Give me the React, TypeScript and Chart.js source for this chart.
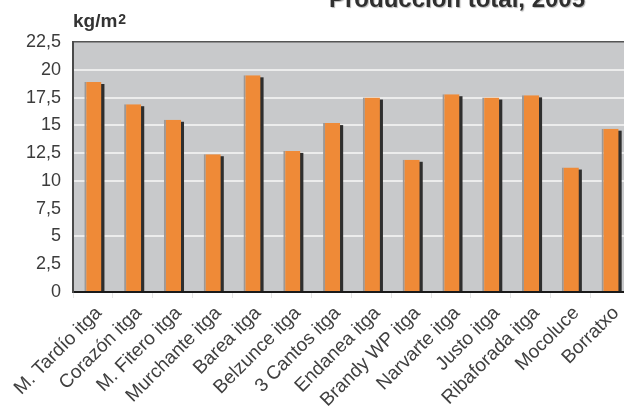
import React, { useEffect, useRef } from "react";
import { Chart, registerables } from "chart.js";

Chart.register(...registerables);

const categories = [
  "M. Tardío itga",
  "Corazón itga",
  "M. Fitero itga",
  "Murchante itga",
  "Barea itga",
  "Belzunce itga",
  "3 Cantos itga",
  "Endanea itga",
  "Brandy WP itga",
  "Narvarte itga",
  "Justo itga",
  "Ribaforada itga",
  "Mocoluce",
  "Borratxo",
];
const production = [18.9, 16.9, 15.5, 12.4, 19.5, 12.7, 15.2, 17.5, 11.9, 17.8, 17.5, 17.7, 11.2, 14.7];
const yMin = 0;
const yMax = 22.5;
const yStep = 2.5;
const hiddenGridValues = [2.5, 7.5];
const titleText = "Producción total, 2005";
const unitText = "kg/m";
const unitSup = "2";

const FONT = "'Liberation Sans', Arial, Helvetica, sans-serif";

const areaBg = {
  id: "areaBg",
  beforeDraw(chart: any) {
    const { ctx, chartArea } = chart;
    ctx.save();
    ctx.fillStyle = "#c8c9cb";
    ctx.fillRect(chartArea.left, chartArea.top, chartArea.right - chartArea.left, chartArea.bottom - chartArea.top);
    ctx.restore();
  },
};

// dark drop shadow on the right of each bar, placed from the bar elements
const barShadow = {
  id: "barShadow",
  beforeDatasetsDraw(chart: any) {
    const ctx = chart.ctx;
    const meta = chart.getDatasetMeta(0);
    ctx.save();
    ctx.fillStyle = "#2e2e2e";
    meta.data.forEach((bar: any) => {
      const p = bar.getProps(["x", "y", "base", "width"], true);
      const right = p.x + p.width / 2;
      ctx.fillRect(right - 1, p.y + 2, 4, p.base - p.y - 2);
    });
    ctx.restore();
  },
};

export default function App() {
  const ref = useRef<HTMLCanvasElement | null>(null);

  useEffect(() => {
    if (!ref.current) return;
    const chart = new Chart(ref.current, {
      type: "bar",
      data: {
        labels: categories,
        datasets: [
          {
            data: production,
            backgroundColor: "#ef8a37",
            borderColor: "#9c9896",
            borderWidth: { left: 2, top: 0, right: 0, bottom: 0 },
            borderSkipped: false as any,
            barPercentage: 0.43,
            categoryPercentage: 1,
          },
        ],
      },
      options: {
        animation: false,
        responsive: true,
        maintainAspectRatio: false,
        layout: { padding: { top: 42, right: 10, bottom: 0, left: 0 } },
        plugins: {
          legend: { display: false },
          title: { display: false },
          tooltip: { enabled: false },
        },
        scales: {
          x: {
            offset: true,
            afterFit: (scale: any) => {
              scale.height = 119;
            },
            grid: {
              offset: true,
              drawOnChartArea: false,
              color: "#e6e6e6",
              tickLength: 6,
            },
            border: { display: true, color: "#1a1a1a", width: 2 },
            ticks: {
              autoSkip: false,
              maxRotation: 45,
              minRotation: 45,
              padding: 4,
              labelOffset: 6,
              color: "#404040",
              font: { family: FONT, size: 19 },
            },
          },
          y: {
            min: yMin,
            max: yMax,
            afterFit: (scale: any) => {
              scale.width = 73;
            },
            grid: {
              drawTicks: false,
              color: (c: any) => {
                const v = c.tick ? c.tick.value : 0;
                if (v === yMax) return "#555555";
                if (v === yMin) return "rgba(0,0,0,0)";
                if (hiddenGridValues.includes(v)) return "rgba(0,0,0,0)";
                return "#ececec";
              },
              lineWidth: (c: any) => {
                const v = c.tick ? c.tick.value : 0;
                return v === yMax ? 1.5 : 2;
              },
            },
            border: { display: true, color: "#4a4a4a", width: 2 },
            ticks: {
              stepSize: yStep,
              padding: 12,
              color: "#3c3c3c",
              font: { family: FONT, size: 18 },
              callback: (v: any) => String(v).replace(".", ","),
            },
          },
        },
      },
      plugins: [areaBg, barShadow],
    });
    return () => chart.destroy();
  }, []);

  return (
    <div
      style={{
        position: "fixed",
        left: 0,
        top: 0,
        width: 624,
        height: 411,
        overflow: "hidden",
        background: "#ffffff",
      }}
    >
      <div style={{ position: "absolute", left: 0, top: 0, width: 640, height: 411 }}>
        <canvas ref={ref} />
      </div>
      <div
        style={{
          position: "absolute",
          left: 329,
          top: -13,
          fontFamily: FONT,
          fontWeight: "bold",
          fontSize: 24,
          lineHeight: "24px",
          color: "#2f2f2f",
          whiteSpace: "nowrap",
          textShadow: "1px 1px 1px rgba(0,0,0,0.3)",
        }}
      >
        {titleText}
      </div>
      <div
        style={{
          position: "absolute",
          left: 73,
          top: 11,
          fontFamily: FONT,
          fontWeight: "bold",
          fontSize: 19,
          lineHeight: "19px",
          color: "#333333",
          whiteSpace: "nowrap",
        }}
      >
        {unitText}
        <span style={{ fontSize: 14, position: "relative", top: -3, marginLeft: 1 }}>{unitSup}</span>
      </div>
    </div>
  );
}
